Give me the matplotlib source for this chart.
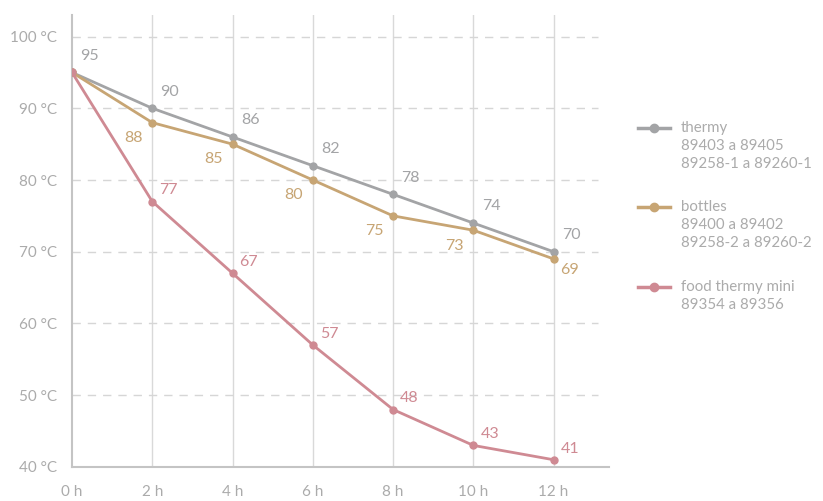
import matplotlib.pyplot as plt
from matplotlib.lines import Line2D

# Temperature over time (hours) for each product group
hours = [0, 2, 4, 6, 8, 10, 12]
thermy = [95, 90, 86, 82, 78, 74, 70]
bottles = [95, 88, 85, 80, 75, 73, 69]
food_mini = [95, 77, 67, 57, 48, 43, 41]

series_names = [
    "thermy\n89403 a 89405\n89258-1 a 89260-1",
    "bottles\n89400 a 89402\n89258-2 a 89260-2",
    "food thermy mini\n89354 a 89356",
]
y_ticks = [40, 50, 60, 70, 80, 90, 100]

c_thermy = "#a3a4a6"
c_bottles = "#c7a574"
c_food = "#cf8a93"
c_text = "#ababab"

plt.rcParams['font.family'] = ['Lato', 'DejaVu Sans']

W, H = 823, 501
fig = plt.figure(figsize=(W / 100, H / 100), dpi=100)
ax = fig.add_axes([0.0875, 0.068, 0.652, 0.902])

ax.set_xlim(0, 13.37)
ax.set_ylim(40, 103)

# grid: solid verticals, dashed horizontals
for h in hours[1:]:
    ax.axvline(h, color="#d9d9d9", lw=1, zorder=0)
for t in y_ticks[1:]:
    ax.plot([0, 13.1], [t, t], color="#d6d6d6", lw=1, ls=(0, (6, 5)), zorder=0)

colors = [c_thermy, c_bottles, c_food]
for vals, col in zip([thermy, bottles, food_mini], colors):
    ax.plot(hours, vals, color=col, lw=2, marker="o", ms=5, zorder=3)

# value labels
for x, v in zip(hours, thermy):
    ax.annotate(str(v), (x, v), xytext=(6, 7), textcoords="offset points",
                color=c_thermy, fontsize=11.5, ha="left", va="bottom")
for x, v in zip(hours[1:-1], bottles[1:-1]):
    ax.annotate(str(v), (x, v), xytext=(-7, -6), textcoords="offset points",
                color=c_bottles, fontsize=11.5, ha="right", va="top")
ax.annotate(str(bottles[-1]), (hours[-1], bottles[-1]), xytext=(5, -3),
            textcoords="offset points", color=c_bottles, fontsize=11.5, ha="left", va="top")
for x, v in zip(hours[1:], food_mini[1:]):
    ax.annotate(str(v), (x, v), xytext=(5, 3), textcoords="offset points",
                color=c_food, fontsize=11.5, ha="left", va="bottom")

ax.set_xticks(hours)
ax.set_xticklabels([f"{h} h" for h in hours])
ax.set_yticks(y_ticks)
ax.set_yticklabels([f"{t} °C" for t in y_ticks])
ax.tick_params(length=0, colors=c_text, labelsize=11)
ax.tick_params(axis="x", pad=13)
ax.tick_params(axis="y", pad=11)

for s in ["top", "right"]:
    ax.spines[s].set_visible(False)
for s in ["left", "bottom"]:
    ax.spines[s].set_color("#c4c4c4")
    ax.spines[s].set_linewidth(1.5)

# legend on the right, handle next to the first text line
leg_top = [128, 207, 287]
for name, col, ytop in zip(series_names, colors, leg_top):
    yf = 1 - ytop / H
    fig.add_artist(Line2D([638 / W, 670 / W], [yf, yf], color=col, lw=2.5))
    fig.add_artist(Line2D([654 / W], [yf], color=col, marker="o", ms=6))
    for i, line in enumerate(name.split("\n")):
        fig.text(681 / W, 1 - (ytop + i * 18) / H, line, color=c_text,
                 fontsize=10.8, ha="left", va="center")

fig.savefig("out.png", dpi=100)
